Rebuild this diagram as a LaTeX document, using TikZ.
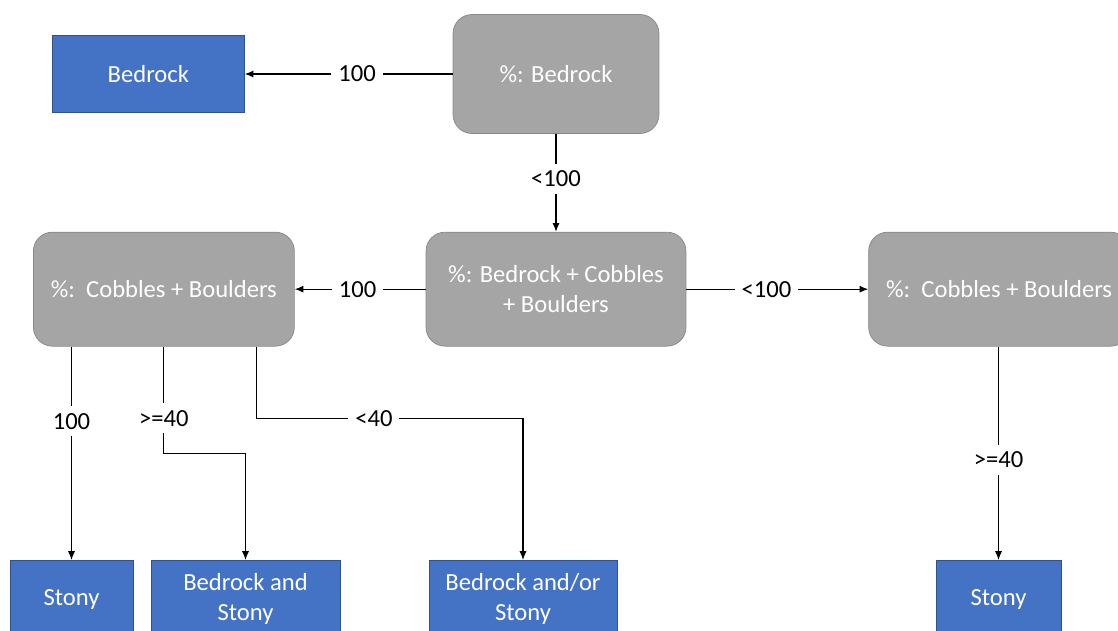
\documentclass[tikz,border=0pt]{standalone}
\usepackage{fontspec}
\setmainfont{Carlito}
\usetikzlibrary{arrows.meta, positioning, calc}
\definecolor{leafblue}{HTML}{4472C4}
\definecolor{leafedge}{HTML}{2F528F}
\definecolor{testgray}{HTML}{A5A5A5}
\definecolor{testedge}{HTML}{878787}

\begin{document}
\begin{tikzpicture}[
    x=0.02cm, y=-0.02cm,
    font=\fontsize{14}{17}\selectfont,
    test/.style={rectangle, draw=testedge, fill=testgray, rounded corners=0.38cm, text=white, align=center, minimum height=2.28cm},
    leaf/.style={rectangle, draw=leafedge, fill=leafblue, text=white, align=center, minimum height=1.56cm},
    arrow/.style={-{Latex[length=5pt,width=4pt]}, line width=0.6pt},
    cut/.style={fill=white, inner sep=4pt},
]
\useasboundingbox (0,0) rectangle (1118,630);

% tests
\node[test, minimum width=4.12cm, minimum height=2.38cm] (pbed) at (556,74) {\%: Bedrock};
\node[leaf, minimum width=3.84cm, minimum height=1.54cm, left=4.16cm of pbed] (bedrock) {Bedrock};
\node[test, minimum width=5.2cm, below=1.96cm of pbed] (pbcb) {\%: Bedrock + Cobbles\\+ Boulders};
\node[test, minimum width=5.22cm, left=2.62cm of pbcb] (pcbl) {\%:\ \ Cobbles + Boulders};
\node[test, minimum width=5.22cm, right=3.64cm of pbcb] (pcbr) {\%:\ \ Cobbles + Boulders};

% leaves
\node[leaf, minimum width=2.46cm, anchor=north] (stony1) at (71.5,560) {Stony};
\node[leaf, minimum width=3.78cm, anchor=north] (bstony) at (245.5,560) {Bedrock and\\Stony};
\node[leaf, minimum width=3.76cm, anchor=north] (bostony) at (523,560) {Bedrock and/or\\Stony};
\node[leaf, minimum width=2.5cm, anchor=north] (stony2) at (998.5,560) {Stony};

\draw[arrow] (pbed) -- node[cut, pos=0.46] {100} (bedrock);
\draw[arrow] (pbed) -- node[cut, pos=0.46] {<100} (pbcb);
\draw[arrow] (pbcb) -- node[cut, pos=0.52] {100} (pcbl);
\draw[arrow] (pbcb) -- node[cut, pos=0.44] {<100} (pcbr);

% branches of the left test
\coordinate (k1) at ($(pcbl.south)+(0,107)$);
\coordinate (c3) at ($(pcbl.south east)+(-38,0)$);
\coordinate (k3) at ($(c3)+(0,72)$);
\draw[arrow] (pcbl.south -| stony1) -- node[cut, pos=0.35] {100} (stony1);
\draw[arrow] (pcbl.south) -- node[cut, pos=0.67] {>=40} (k1) -| (bstony);
\draw[arrow] (c3) -- (k3) -| node[cut, pos=0.22] {<40} (bostony);

\draw[arrow] (pcbr.south -| stony2) -- node[cut, pos=0.53] {>=40} (stony2);

\end{tikzpicture}
\end{document}
